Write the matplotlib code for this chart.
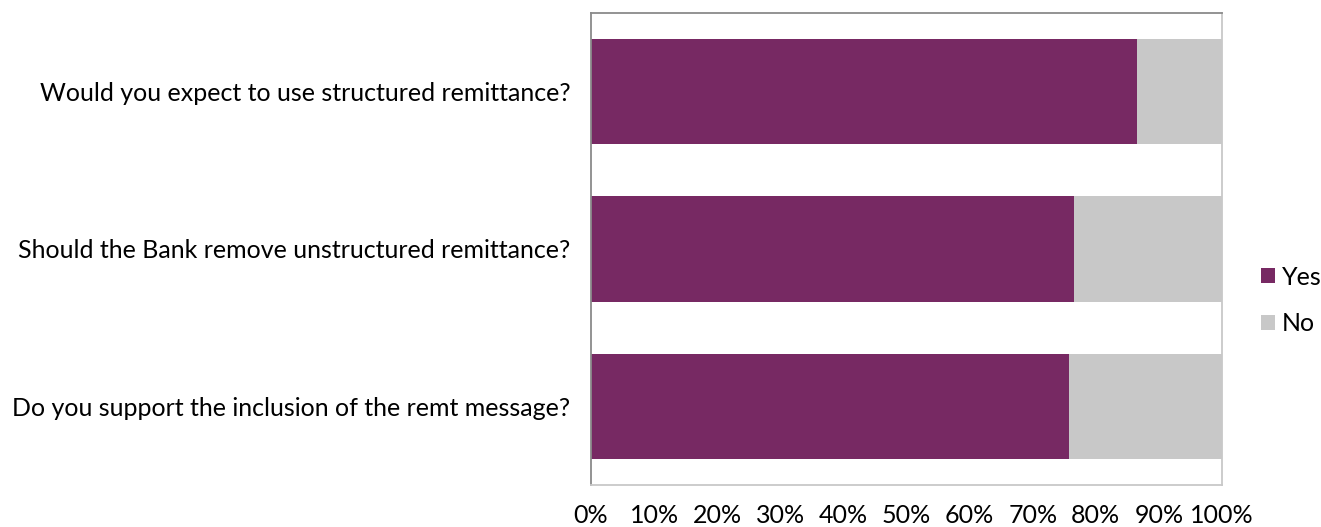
import matplotlib
matplotlib.use("Agg")
import matplotlib.pyplot as plt
from matplotlib.ticker import PercentFormatter

questions = [
    "Do you support the inclusion of the remt message?",
    "Should the Bank remove unstructured remittance?",
    "Would you expect to use structured remittance?",
]
yes_share = [75.8, 76.5, 86.5]
no_share = [100 - v for v in yes_share]
series_names = ["Yes", "No"]
series_colors = ["#772963", "#c8c8c8"]

plt.rcParams["font.family"] = ["Lato", "DejaVu Sans"]

W, H = 1321, 527
fig = plt.figure(figsize=(W / 100, H / 100), dpi=100)
ax = fig.add_axes([591 / W, 1 - 485 / H, 631 / W, 472 / H])

y = range(len(questions))
ax.barh(y, yes_share, height=0.67, color=series_colors[0], label=series_names[0])
ax.barh(y, no_share, left=yes_share, height=0.67, color=series_colors[1], label=series_names[1])

ax.set_xlim(0, 100)
ax.set_ylim(-0.5, len(questions) - 0.5)
ax.set_yticks(list(y))
ax.set_yticklabels(questions)
ax.set_xticks(range(0, 101, 10))
ax.xaxis.set_major_formatter(PercentFormatter(decimals=0))
ax.tick_params(axis="both", length=0, labelsize=18, colors="#000000")
ax.tick_params(axis="x", pad=14)
ax.tick_params(axis="y", pad=15)

for side, col in [("left", "#8a8a8a"), ("top", "#8a8a8a"), ("right", "#c8c8c8"), ("bottom", "#c8c8c8")]:
    ax.spines[side].set_color(col)
    ax.spines[side].set_linewidth(1.3)

ax.legend(loc="center left", bbox_to_anchor=(1261 / W, 1 - 300.5 / H),
          bbox_transform=fig.transFigure, frameon=False, borderpad=0,
          borderaxespad=0, fontsize=18, handlelength=0.55, handleheight=0.55,
          handletextpad=0.3, labelspacing=0.95)

fig.savefig("out.png", dpi=100)
